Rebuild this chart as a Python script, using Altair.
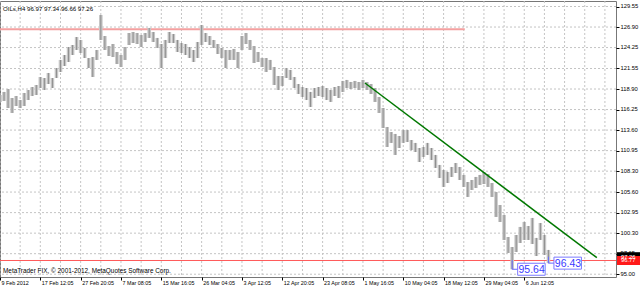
import altair as alt
import pandas as pd

# ---------------- data ----------------
title_text = "OILs,H4  96.97 97.34 96.66 97.26"
watermark_text = "MetaTrader FIX, \u00a9 2001-2012, MetaQuotes Software Corp."

# H4 price range, sampled every 4 bars (high / low of each group)
highs = [118.13, 118.52, 118.90, 117.74, 118.00, 117.48, 118.39, 118.77, 119.16, 119.42,
         120.45, 120.32, 120.97, 120.32, 121.61, 122.65, 123.29, 124.32, 124.58, 125.61,
         125.23, 124.20, 122.90, 123.03, 123.94, 128.45, 125.74, 124.45, 124.71, 123.68,
         123.29, 124.32, 126.13, 126.26, 126.13, 125.87, 126.13, 126.78, 126.26, 125.49,
         124.71, 125.23, 126.26, 126.00, 125.23, 124.84, 124.71, 124.32, 123.94, 124.97,
         127.16, 126.13, 125.74, 125.23, 124.71, 124.20, 123.94, 123.94, 124.07, 123.68,
         125.74, 126.13, 125.23, 124.45, 123.68, 122.90, 122.90, 122.65, 121.74, 120.58,
         120.58, 121.61, 121.36, 120.45, 119.55, 119.16, 119.03, 118.52, 119.03, 119.16,
         119.29, 119.03, 118.77, 119.16, 119.29, 119.94, 120.07, 119.81, 119.94, 119.81,
         120.07, 119.81, 119.55, 119.03, 117.87, 116.45, 114.00, 113.35, 113.10, 112.84,
         113.61, 113.61, 112.32, 111.94, 111.29, 111.42, 111.94, 111.29, 110.39, 109.10,
         108.45, 108.19, 108.84, 109.35, 108.84, 107.81, 106.90, 107.16, 107.55, 107.81,
         108.19, 107.93, 106.77, 105.61, 103.93, 102.64, 99.80, 98.51, 100.06, 101.10,
         101.74, 101.22, 102.26, 99.68, 101.61, 100.06, 98.13]
lows = [117.23, 117.36, 116.45, 115.81, 116.71, 116.45, 116.71, 117.48, 118.00, 118.13,
        119.03, 118.77, 119.55, 119.03, 120.32, 121.10, 121.87, 122.39, 123.29, 123.94,
        123.55, 122.90, 121.61, 120.45, 122.65, 125.23, 123.94, 123.16, 123.03, 122.13,
        121.74, 122.65, 124.58, 124.84, 124.71, 124.32, 124.97, 125.49, 124.97, 124.20,
        121.61, 122.90, 124.84, 124.84, 123.68, 123.55, 123.29, 122.90, 122.39, 122.90,
        124.58, 124.97, 124.58, 124.20, 123.42, 122.90, 121.61, 122.65, 122.65, 121.61,
        123.94, 124.71, 123.94, 122.26, 122.39, 121.74, 121.10, 121.36, 119.42, 118.77,
        119.29, 120.32, 120.07, 119.03, 118.26, 117.87, 117.48, 116.58, 117.74, 118.00,
        117.87, 117.48, 117.23, 118.00, 117.74, 118.52, 119.03, 118.90, 119.03, 118.77,
        119.03, 118.77, 118.26, 117.23, 115.81, 113.87, 111.42, 111.94, 110.39, 111.29,
        111.94, 112.06, 111.03, 110.77, 109.48, 110.13, 110.39, 109.74, 108.71, 107.42,
        106.26, 106.77, 107.55, 108.06, 107.16, 106.26, 104.97, 105.87, 106.13, 106.52,
        106.64, 106.26, 104.97, 102.39, 101.74, 99.42, 97.74, 95.64, 97.87, 99.03,
        99.42, 99.42, 98.90, 97.35, 99.42, 97.48, 96.43]
bar_step = 4
bars = [i * bar_step for i in range(len(highs))]

date_label_bars = [0, 40, 80, 120, 160, 200, 240, 280, 320, 360, 400, 440, 480, 520]
date_labels = ["9 Feb 2012", "17 Feb 12:05", "27 Feb 20:05", "7 Mar 08:05", "15 Mar 16:05",
               "26 Mar 04:05", "3 Apr 12:05", "12 Apr 20:05", "23 Apr 08:05", "1 May 16:05",
               "10 May 04:05", "18 May 12:05", "29 May 04:05", "6 Jun 12:05"]
grid_bars = list(range(0, 601, 20))
price_ticks = [95.00, 97.65, 100.30, 102.95, 105.60, 108.30, 110.95, 113.60,
               116.25, 118.90, 121.55, 124.25, 126.90, 129.55]

resist_bars = [0, 461]
resist_price = 126.60
support_price = 96.77
trend_bars = [362, 592]
trend_prices = [119.68, 97.13]
lbl_bars = [508, 544]
lbl_prices = [95.64, 96.43]
lbl_tops = [96.80, 97.26]
bid_price = 97.26

# ---------------- chart ----------------
FONT = "Liberation Sans, Arial"
xs = alt.Scale(domain=[0, 611], nice=False, zero=False)
ys = alt.Scale(domain=[94.64, 130.26], nice=False, zero=False)

candles = pd.DataFrame({"bar": bars, "high": highs, "low": lows})
vgrid = pd.DataFrame({"bar": grid_bars})
hgrid = pd.DataFrame({"price": price_ticks})
resist = pd.DataFrame({"bar": [resist_bars[0]], "bar2": [resist_bars[1]], "price": [resist_price]})
support = pd.DataFrame({"price": [support_price]})
trend = pd.DataFrame({"bar": [trend_bars[0]], "bar2": [trend_bars[1]],
                      "price": [trend_prices[0]], "price2": [trend_prices[1]]})
labels = pd.DataFrame({"bar": lbl_bars, "price": lbl_prices, "top": lbl_tops,
                       "txt": [f"{p:.2f}" for p in lbl_prices]})
right_lbls = pd.DataFrame({"price": [bid_price, support_price],
                           "txt": [f"{bid_price:.2f}", f"{support_price:.2f}"],
                           "col": ["bid", "line"]})

label_expr = "[" + ",".join("'" + s + "'" for s in date_labels) + "][round(datum.value/40)]"

x_axis = alt.Axis(values=date_label_bars, labelExpr=label_expr, title=None, grid=False,
                  domain=False, tickSize=3, tickColor="#000000", labelAlign="left",
                  labelBaseline="top", labelPadding=0, labelOffset=1, labelFlush=False,
                  labelOverlap=False, labelBound=False, labelFont=FONT, labelFontSize=5.4,
                  labelColor="#000000")
y_axis = alt.Axis(values=price_ticks, format=".2f", orient="right", title=None, grid=False,
                  domain=False, tickSize=3, tickColor="#000000", labelPadding=1,
                  labelOffset=-1, labelOverlap=False, labelFlush=False, labelBound=False,
                  labelFont=FONT, labelFontSize=5.8, labelColor="#000000")


def X(f):
    return alt.X(f, scale=xs, axis=x_axis)


def Y(f):
    return alt.Y(f, scale=ys, axis=y_axis)


vg = alt.Chart(vgrid).mark_rule(color="#c4c4c4", strokeWidth=1, strokeDash=[2, 2]).encode(
    x=X("bar:Q"))
hg = alt.Chart(hgrid).mark_rule(color="#c4c4c4", strokeWidth=1, strokeDash=[2, 2]).encode(
    y=Y("price:Q"))

res = alt.Chart(resist).mark_rule(color="#f4a0a0", strokeWidth=2).encode(
    x=X("bar:Q"), x2="bar2:Q", y=Y("price:Q"))
sup = alt.Chart(support).mark_rule(color="#ff5a5a", strokeWidth=1).encode(
    y=Y("price:Q"))

cndl_wide = alt.Chart(candles).mark_rule(color="#c6c6c6", strokeWidth=3.6).encode(
    x=X("bar:Q"), y=Y("low:Q"), y2="high:Q")
cndl_core = alt.Chart(candles).mark_rule(color="#8e8e8e", strokeWidth=1).encode(
    x=X("bar:Q"), y=Y("low:Q"), y2="high:Q")

trd = alt.Chart(trend).mark_rule(color="#007800", strokeWidth=1.5).encode(
    x=X("bar:Q"), x2="bar2:Q", y=Y("price:Q"), y2="price2:Q")

lead_v = alt.Chart(labels).mark_rule(color="#6a6aff", strokeWidth=1).encode(
    x=X("bar:Q"), y=Y("top:Q"), y2="price:Q")
lead_h = alt.Chart(labels).mark_rule(color="#6a6aff", strokeWidth=1, x2Offset=6).encode(
    x=X("bar:Q"), x2="bar:Q", y=Y("price:Q"))
box = alt.Chart(labels).mark_rect(fill="#ffffff", stroke="#7a7aff", strokeWidth=1,
                                  xOffset=5.5, x2Offset=33, yOffset=-6, y2Offset=6).encode(
    x=X("bar:Q"), x2="bar:Q", y=Y("price:Q"), y2="price:Q")
btxt = alt.Chart(labels).mark_text(color="#3a3aff", font="Liberation Sans", fontSize=10.5,
                                   align="center", baseline="middle", dx=19.5, dy=0.5).encode(
    x=X("bar:Q"), y=Y("price:Q"), text="txt:N")

rbox = alt.Chart(right_lbls).mark_rect(yOffset=-4.5, y2Offset=4.5).encode(
    x=alt.value(617), x2=alt.value(640),
    y=Y("price:Q"), y2="price:Q",
    color=alt.Color("col:N", scale=alt.Scale(domain=["bid", "line"],
                                             range=["#000000", "#ff1a1a"]), legend=None))
rtxt = alt.Chart(right_lbls).mark_text(color="#ffffff", font=FONT, fontSize=5.8,
                                       align="left", baseline="middle").encode(
    x=alt.value(621), y=Y("price:Q"), text="txt:N")

ttl = alt.Chart(pd.DataFrame({"t": [title_text]})).mark_text(
    align="left", baseline="middle", font=FONT, fontSize=6.1, color="#000000").encode(
    x=alt.value(3), y=alt.value(8), text="t:N")
wm = alt.Chart(pd.DataFrame({"t": [watermark_text]})).mark_text(
    align="left", baseline="middle", font=FONT, fontSize=6.4, color="#000000").encode(
    x=alt.value(3), y=alt.value(270), text="t:N")

chart = alt.layer(vg, hg, res, sup, cndl_wide, cndl_core, trd, lead_v, lead_h, box, btxt,
                  rbox, rtxt, ttl, wm).properties(
    width=616, height=276, autosize="none",
    padding={"left": 0, "top": 1, "right": 24, "bottom": 11},
    background="#ffffff",
).configure_view(stroke="#777777", strokeWidth=1, clip=False)

chart.save("out.html", embed_options={"renderer": "svg", "actions": False})
